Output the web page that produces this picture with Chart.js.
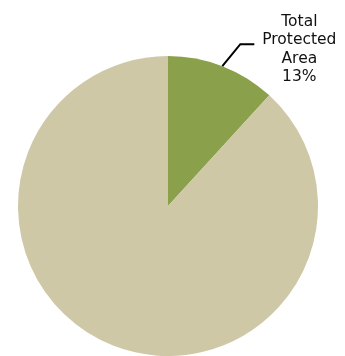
<!DOCTYPE html>
<html lang="en">

<head>
  <meta charset="UTF-8" />
  <title>Protected Area</title>
  <script src="https://cdn.jsdelivr.net/npm/chart.js"></script>
  <style>
    html, body { margin: 0; padding: 0; background: #fff; }
    .chart-container { width: 345px; height: 356px; }
  </style>
</head>

<body>
  <div class="chart-container">
    <canvas id="graficoPizza"></canvas>
  </div>

  <script>
    // data
    const categorias = ["Total Protected Area", "Other"];
    const valores = [11.8, 88.2];
    const cores = ["#8aa04b", "#cfc8a7"];
    const rotuloTexto = ["Total", "Protected", "Area", "13%"];

    // leader line + label for the first slice
    const rotuloPlugin = {
      id: "rotulo",
      afterDatasetsDraw(chart) {
        const ctx = chart.ctx;
        const arco = chart.getDatasetMeta(0).data[0];
        const meio = (arco.startAngle + arco.endAngle) / 2;
        const x0 = arco.x + Math.cos(meio) * arco.outerRadius;
        const y0 = arco.y + Math.sin(meio) * arco.outerRadius;
        const x1 = x0 + 18;
        const y1 = y0 - 22;
        const x2 = x1 + 14;

        ctx.save();
        ctx.strokeStyle = "#000";
        ctx.lineWidth = 2;
        ctx.beginPath();
        ctx.moveTo(x0, y0);
        ctx.lineTo(x1, y1);
        ctx.lineTo(x2, y1);
        ctx.stroke();

        ctx.fillStyle = "#111";
        ctx.font = "15.5px 'DejaVu Sans', Verdana, sans-serif";
        ctx.textAlign = "center";
        ctx.textBaseline = "alphabetic";
        const cx = x2 + 45;
        rotuloTexto.forEach(function (linha, i) {
          ctx.fillText(linha, cx, y1 - 18.5 + i * 18.5);
        });
        ctx.restore();
      },
    };

    var ctxPizza = document.getElementById("graficoPizza").getContext("2d");
    var graficoPizza = new Chart(ctxPizza, {
      type: "pie",
      data: {
        labels: categorias,
        datasets: [
          {
            data: valores,
            backgroundColor: cores,
            borderWidth: 0,
          },
        ],
      },
      options: {
        responsive: true,
        maintainAspectRatio: false,
        animation: false,
        layout: {
          padding: { top: 56, bottom: 0, left: 18, right: 27 },
        },
        plugins: {
          legend: { display: false },
          tooltip: { enabled: false },
        },
      },
      plugins: [rotuloPlugin],
    });
  </script>

</body>

</html>
